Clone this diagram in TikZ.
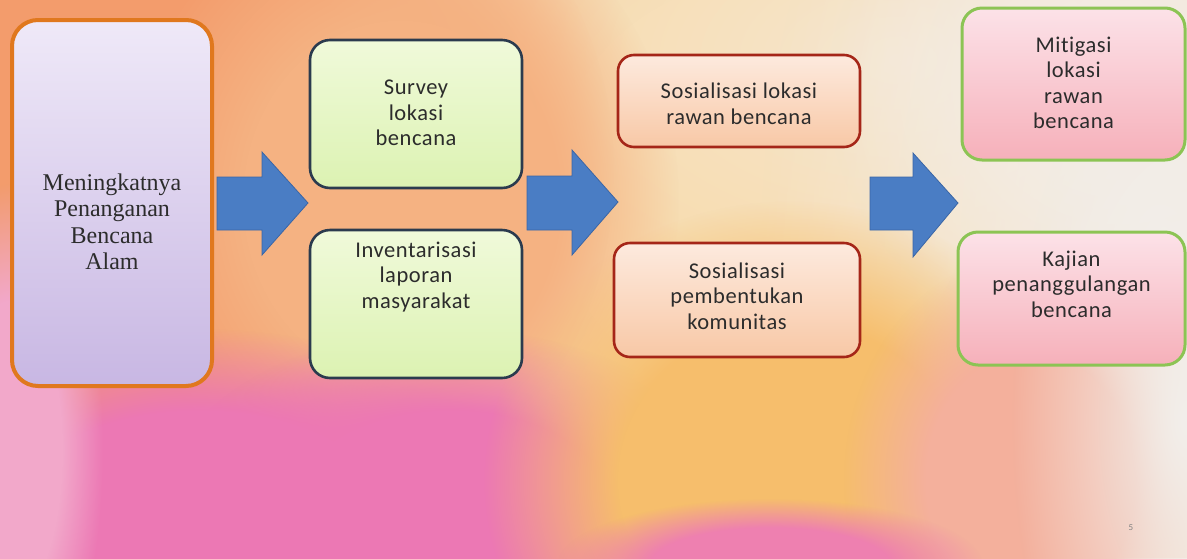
\documentclass[tikz,border=0pt]{standalone}
\usepackage{fontspec}
\setmainfont{Liberation Serif}
\newfontfamily\calib[LetterSpace=2.5,Ligatures=NoCommon]{Carlito}
\usetikzlibrary{fadings}
\tikzfading[name=blob, inner color=transparent!0, outer color=transparent!100]
\pgfdeclareradialshading{softblobsh}{\pgfpointorigin}{color(0bp)=(white); color(14bp)=(white); color(25bp)=(black); color(50bp)=(black)}
\pgfdeclarefading{softblob}{\pgfuseshading{softblobsh}}
\definecolor{bgbase}{HTML}{F6D2AA}
\definecolor{arrowfill}{HTML}{4A7DC4}
\definecolor{arrowline}{HTML}{3A66A6}
\definecolor{txt}{HTML}{2C2C2C}
\definecolor{pagegrey}{HTML}{828282}
% box colours
\definecolor{orangeline}{HTML}{E0781E}
\definecolor{lavtop}{HTML}{EFE9F8}
\definecolor{lavbot}{HTML}{C8B7E3}
\definecolor{slateline}{HTML}{2B3B4E}
\definecolor{greentop}{HTML}{F0FADA}
\definecolor{greenbot}{HTML}{DCF2B2}
\definecolor{redline}{HTML}{A52618}
\definecolor{peachtop}{HTML}{FDEADE}
\definecolor{peachbot}{HTML}{F8C8A6}
\definecolor{greenline}{HTML}{8CC454}
\definecolor{pinktop}{HTML}{FCE2E8}
\definecolor{pinkbot}{HTML}{F6B0BA}
% background colours
\definecolor{bgCream}{HTML}{F3EEE8}
\definecolor{bgPale}{HTML}{F8DCAE}
\definecolor{bgPaler}{HTML}{F6E6CE}
\definecolor{bgOrange}{HTML}{F39C6C}
\definecolor{bgPeach}{HTML}{F5B282}
\definecolor{bgPink}{HTML}{EC78B4}
\definecolor{bgLightPink}{HTML}{F2A8CA}
\definecolor{bgYellow}{HTML}{F6BE6C}
\definecolor{bgSalmon}{HTML}{F4B09C}
\definecolor{bgMagenta}{HTML}{EE80B0}
\definecolor{bgWhite}{HTML}{F2EFEB}
\newcommand\bgblob[5]{\fill[fill=#1, path fading=blob] (#2,#3) ellipse ({1.33*#4} and {1.33*#5});}
\newcommand\bgsoft[5]{\fill[fill=#1, path fading=softblob] (#2,#3) ellipse ({1.33*#4} and {1.33*#5});}
\tikzset{
  basebox/.style={rectangle, rounded corners=20pt, inner sep=0pt},
  leftbox/.style={basebox, rounded corners=26pt, draw=orangeline, line width=4pt,
     top color=lavtop, bottom color=lavbot},
  greenbox/.style={basebox, draw=slateline, line width=2.6pt,
     top color=greentop, bottom color=greenbot},
  redbox/.style={basebox, rounded corners=16pt, draw=redline, line width=2.6pt,
     top color=peachtop, bottom color=peachbot},
  pinkbox/.style={basebox, draw=greenline, line width=3pt,
     top color=pinktop, bottom color=pinkbot},
  sanstext/.style={align=center, text=txt, font=\calib\fontsize{22.5}{25.5}\selectfont, inner sep=0pt},
  seriftext/.style={align=center, text=txt, font=\fontsize{24}{26.5}\selectfont, inner sep=0pt},
  blockarrow/.style={fill=arrowfill, draw=arrowline, line width=0.8pt, line join=miter},
}
\begin{document}
\begin{tikzpicture}[x=1pt,y=-1pt]
\useasboundingbox (0,0) rectangle (1187,558);
\begin{scope}
\clip (0,0) rectangle (1187,558);
\fill[bgbase] (0,0) rectangle (1187,558);
% pale right / top
\bgsoft{bgPale}{760}{190}{280}{280}
\bgblob{bgPaler}{900}{60}{300}{180}
\bgblob{bgCream}{1160}{250}{300}{500}
\bgblob{bgCream}{1120}{90}{220}{200}
% orange upper-left
\bgsoft{bgOrange}{110}{170}{380}{330}
\bgblob{bgOrange}{60}{90}{300}{250}
\bgsoft{bgPeach}{400}{200}{210}{240}
% pink lower-left
\bgsoft{bgPink}{200}{515}{250}{140}
\bgsoft{bgPink}{450}{515}{220}{140}
\bgsoft{bgLightPink}{10}{450}{70}{200}
% yellow-orange centre bottom
\bgsoft{bgYellow}{790}{480}{230}{210}
% salmon right bottom
\bgsoft{bgSalmon}{1030}{480}{140}{170}
% magenta bottom centre
\bgsoft{bgMagenta}{770}{565}{160}{50}
% off-white right edge
\bgblob{bgWhite}{1185}{420}{130}{300}
\end{scope}

% boxes
\node[leftbox, minimum width=200pt, minimum height=366pt] (goal) at (112,203) {};
\node[seriftext] (goaltext) at (112,222) {Meningkatnya\\Penanganan\\Bencana\\Alam};

\node[greenbox, minimum width=212pt, minimum height=148pt] (survey) at (416,114) {};
\node[sanstext] (surveytext) at (416,113) {Survey\\lokasi\\bencana};
\node[greenbox, minimum width=212pt, minimum height=148pt] (invent) at (416,304) {};
\node[sanstext] (inventtext) at (416,277) {Inventarisasi\\laporan\\masyarakat};

\node[redbox, minimum width=242pt, minimum height=92pt] (soslok) at (739,101) {};
\node[sanstext] (soslottext) at (739,104) {Sosialisasi lokasi\\rawan bencana};
\node[redbox, minimum width=246pt, minimum height=114pt] (soskom) at (737,300) {};
\node[sanstext] (soskomtext) at (737,296) {Sosialisasi\\pembentukan\\komunitas};

\node[pinkbox, minimum width=223pt, minimum height=152pt] (mitig) at (1073.5,84) {};
\node[sanstext] (mitigtext) at (1073.5,83) {Mitigasi\\lokasi\\rawan\\bencana};
\node[pinkbox, minimum width=227pt, minimum height=133pt] (kajian) at (1071.5,298.5) {};
\node[sanstext] (kajiantext) at (1071.5,284) {Kajian\\penanggulangan\\bencana};

% block arrows
\draw[blockarrow] (217,177) -- (262,177) -- (262,152) -- (308,203) -- (262,255) -- (262,230) -- (217,230) -- cycle;
\draw[blockarrow] (527,176) -- (572,176) -- (572,150) -- (618,202) -- (572,255) -- (572,230) -- (527,230) -- cycle;
\draw[blockarrow] (870,177) -- (913,177) -- (913,153) -- (958,203) -- (913,257) -- (913,230) -- (870,230) -- cycle;

% page number
\node[text=pagegrey, font=\calib\fontsize{9}{10}\selectfont, inner sep=0pt] (pagenum) at (1131,528) {5};
\end{tikzpicture}
\end{document}
